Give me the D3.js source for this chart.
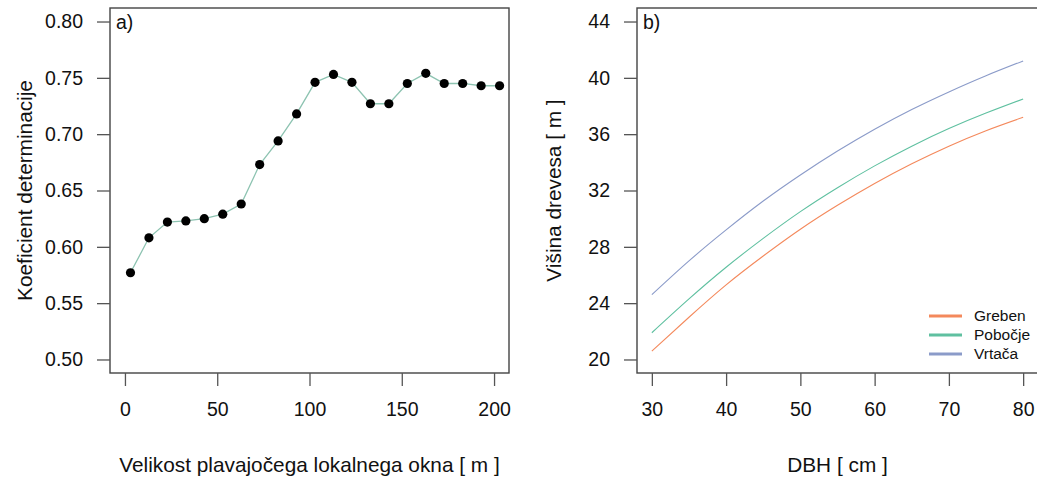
<!DOCTYPE html>
<html>
<head>
<meta charset="utf-8">
<script src="https://cdn.jsdelivr.net/npm/d3@7"></script>
<style>
  body { margin: 0; background: #fff; }
  svg { display: block; font-family: "Liberation Sans", Arial, sans-serif; }
</style>
</head>
<body>
<svg id="chart" width="1037" height="477"></svg>
<script>
// panel a) window size vs. coefficient of determination
const windowSize = [3, 13, 23, 33, 43, 53, 63, 73, 83, 93, 103, 113, 123, 133, 143, 153, 163, 173, 183, 193, 203];
const r2 = [0.577, 0.608, 0.622, 0.623, 0.625, 0.629, 0.638, 0.673, 0.694, 0.718, 0.746, 0.753, 0.746,
            0.727, 0.727, 0.745, 0.754, 0.745, 0.745, 0.743, 0.743];
const aTicksX = [0, 50, 100, 150, 200];
const aTicksY = [0.50, 0.55, 0.60, 0.65, 0.70, 0.75, 0.80];

// panel b) height curves
const dbh = [30, 35, 40, 45, 50, 55, 60, 65, 70, 75, 80];
const greben = [20.6, 23.0, 25.3, 27.35, 29.25, 30.95, 32.5, 33.9, 35.15, 36.25, 37.2];
const pobocje = [21.9, 24.3, 26.55, 28.6, 30.5, 32.2, 33.75, 35.15, 36.4, 37.5, 38.5];
const vrtaca = [24.6, 27.0, 29.2, 31.25, 33.1, 34.8, 36.35, 37.75, 39.0, 40.15, 41.2];
const seriesNames = ["Greben", "Pobočje", "Vrtača"];
const seriesColors = ["#f4895c", "#5fc0a0", "#8b9bc9"];
const bTicksX = [30, 40, 50, 60, 70, 80];
const bTicksY = [20, 24, 28, 32, 36, 40, 44];

const svg = d3.select("#chart");
const plotTop = 8, plotBottom = 373;
const axisCol = "#444";
const fontSize = 19.5;
const titleSize = 20.8;

function panel(opts) {
  const g = svg.append("g");
  const x = d3.scaleLinear().domain(opts.xDomain).range(opts.xRange);
  const y = d3.scaleLinear().domain(opts.yDomain).range([plotBottom, plotTop]);

  // box
  g.append("rect")
    .attr("x", opts.xRange[0]).attr("y", plotTop)
    .attr("width", opts.xRange[1] - opts.xRange[0]).attr("height", plotBottom - plotTop)
    .attr("fill", "none").attr("stroke", axisCol).attr("stroke-width", 1.4);

  // axes (R style: ticks outward, no domain line)
  const xAxis = g.append("g")
    .attr("transform", "translate(0," + plotBottom + ")")
    .call(d3.axisBottom(x).tickValues(opts.xTicks).tickSize(13).tickPadding(15).tickFormat(d3.format("d")));
  const yAxis = g.append("g")
    .attr("transform", "translate(" + opts.xRange[0] + ",0)")
    .call(d3.axisLeft(y).tickValues(opts.yTicks).tickSize(13).tickPadding(14).tickFormat(opts.yFormat));
  [xAxis, yAxis].forEach(a => {
    a.select(".domain").remove();
    a.selectAll("line").attr("stroke", "#555").attr("stroke-width", 1.3);
    a.selectAll("text").attr("fill", "#111").style("font-size", fontSize + "px");
  });
  xAxis.selectAll("text").attr("dy", "0.75em");

  // titles
  g.append("text")
    .attr("x", (opts.xRange[0] + opts.xRange[1]) / 2).attr("y", 472)
    .attr("text-anchor", "middle").attr("fill", "#111").style("font-size", titleSize + "px")
    .text(opts.xTitle);
  g.append("text")
    .attr("transform", "translate(" + opts.yTitleX + "," + (plotTop + plotBottom) / 2 + ") rotate(-90)")
    .attr("text-anchor", "middle").attr("fill", "#111").style("font-size", titleSize + "px")
    .text(opts.yTitle);
  g.append("text")
    .attr("x", opts.xRange[0] + 6).attr("y", 29)
    .attr("fill", "#111").style("font-size", fontSize + "px")
    .text(opts.label);

  return { g, x, y };
}

// panel a
const pa = panel({
  xDomain: [-8.1, 208.1], xRange: [110, 509],
  yDomain: [0.488, 0.812],
  xTicks: aTicksX, yTicks: aTicksY, yFormat: d3.format(".2f"),
  xTitle: "Velikost plavajočega lokalnega okna [ m ]",
  yTitle: "Koeficient determinacije", yTitleX: 32, label: "a)"
});
const ptsA = windowSize.map((w, i) => [w, r2[i]]);
pa.g.append("path")
  .datum(ptsA)
  .attr("d", d3.line().x(d => pa.x(d[0])).y(d => pa.y(d[1])))
  .attr("fill", "none").attr("stroke", "#8dc3b1").attr("stroke-width", 1.3);
pa.g.selectAll("circle")
  .data(ptsA)
  .join("circle")
  .attr("cx", d => pa.x(d[0])).attr("cy", d => pa.y(d[1]))
  .attr("r", 4.6).attr("fill", "#000");

// panel b
const pb = panel({
  xDomain: [28, 82], xRange: [637, 1038],
  yDomain: [19.04, 44.96],
  xTicks: bTicksX, yTicks: bTicksY, yFormat: d3.format("d"),
  xTitle: "DBH [ cm ]",
  yTitle: "Višina drevesa [ m ]", yTitleX: 561, label: "b)"
});
const curveLine = d3.line().x(d => pb.x(d[0])).y(d => pb.y(d[1])).curve(d3.curveNatural);
[greben, pobocje, vrtaca].forEach((s, i) => {
  pb.g.append("path")
    .datum(dbh.map((d, j) => [d, s[j]]))
    .attr("d", curveLine)
    .attr("fill", "none").attr("stroke", seriesColors[i]).attr("stroke-width", 1.1);
});

// legend
const legend = pb.g.append("g");
seriesNames.forEach((n, i) => {
  const yy = 316 + i * 19;
  legend.append("line")
    .attr("x1", 929).attr("x2", 962).attr("y1", yy).attr("y2", yy)
    .attr("stroke", seriesColors[i]).attr("stroke-width", 3);
  legend.append("text")
    .attr("x", 974).attr("y", yy).attr("dy", "0.35em")
    .attr("fill", "#111").style("font-size", "15.5px")
    .text(n);
});
</script>
</body>
</html>
